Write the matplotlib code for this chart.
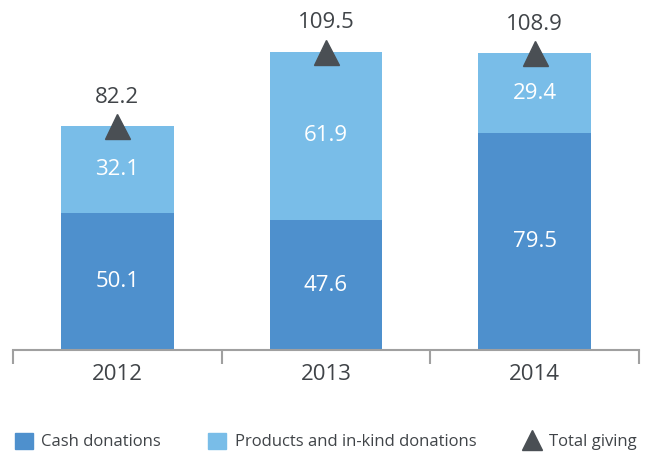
import matplotlib
matplotlib.use("Agg")
import matplotlib.pyplot as plt
from matplotlib.patches import Patch
from matplotlib.lines import Line2D

years = ["2012", "2013", "2014"]
cash = [50.1, 47.6, 79.5]
inkind = [32.1, 61.9, 29.4]
total = [82.2, 109.5, 108.9]

plt.rcParams['font.family'] = ['Open Sans', 'DejaVu Sans']
c_cash = "#4e90cd"
c_kind = "#79bde8"
c_tri = "#4a4f54"
c_text = "#404448"

fig = plt.figure(figsize=(6.52, 4.54), dpi=100)
ax = fig.add_axes([13/652, 104/454, 626/652, 350/454])
x = list(range(len(years)))
w = 0.54
ax.bar(x, cash, width=w, color=c_cash)
ax.bar(x, inkind, width=w, bottom=cash, color=c_kind)
ax.plot(x, total, linestyle="none", marker="^", markersize=18, color=c_tri)
fs = 16
for i in x:
    ax.text(i, cash[i]/2, f"{cash[i]}", ha="center", va="center", color="white", fontsize=fs)
    ax.text(i, cash[i] + inkind[i]/2, f"{inkind[i]}", ha="center", va="center", color="white", fontsize=fs)
    ax.text(i, total[i] + 10.5, f"{total[i]}", ha="center", va="center", color=c_text, fontsize=fs)

ax.set_xlim(-0.5, 2.5)
ax.set_ylim(0, 350/2.725)
for s in ["top", "right", "left"]:
    ax.spines[s].set_visible(False)
ax.spines["bottom"].set_color("#a0a0a0")
ax.spines["bottom"].set_linewidth(1.5)
ax.set_yticks([])
ax.set_xticks([-0.5, 0.5, 1.5, 2.5])
ax.set_xticklabels([])
ax.tick_params(axis="x", length=10, width=1.5, color="#a0a0a0", direction="out")
ax.set_xticks(x, minor=True)
ax.set_xticklabels(years, minor=True)
ax.tick_params(axis="x", which="minor", length=0, pad=10, labelsize=fs, labelcolor=c_text)

handles = [Patch(color=c_cash), Patch(color=c_kind),
           Line2D([], [], linestyle="none", marker="^", markersize=15, color=c_tri)]
labels = ["Cash donations", "Products and in-kind donations", "Total giving"]
fig.legend(handles, labels, loc="lower center", bbox_to_anchor=(0.5, -0.025), ncol=3, frameon=False,
           fontsize=12, labelcolor=c_text, handlelength=1.1, handleheight=1.1, handletextpad=0.5,
           columnspacing=2.8)
fig.savefig("out.png", dpi=100)
